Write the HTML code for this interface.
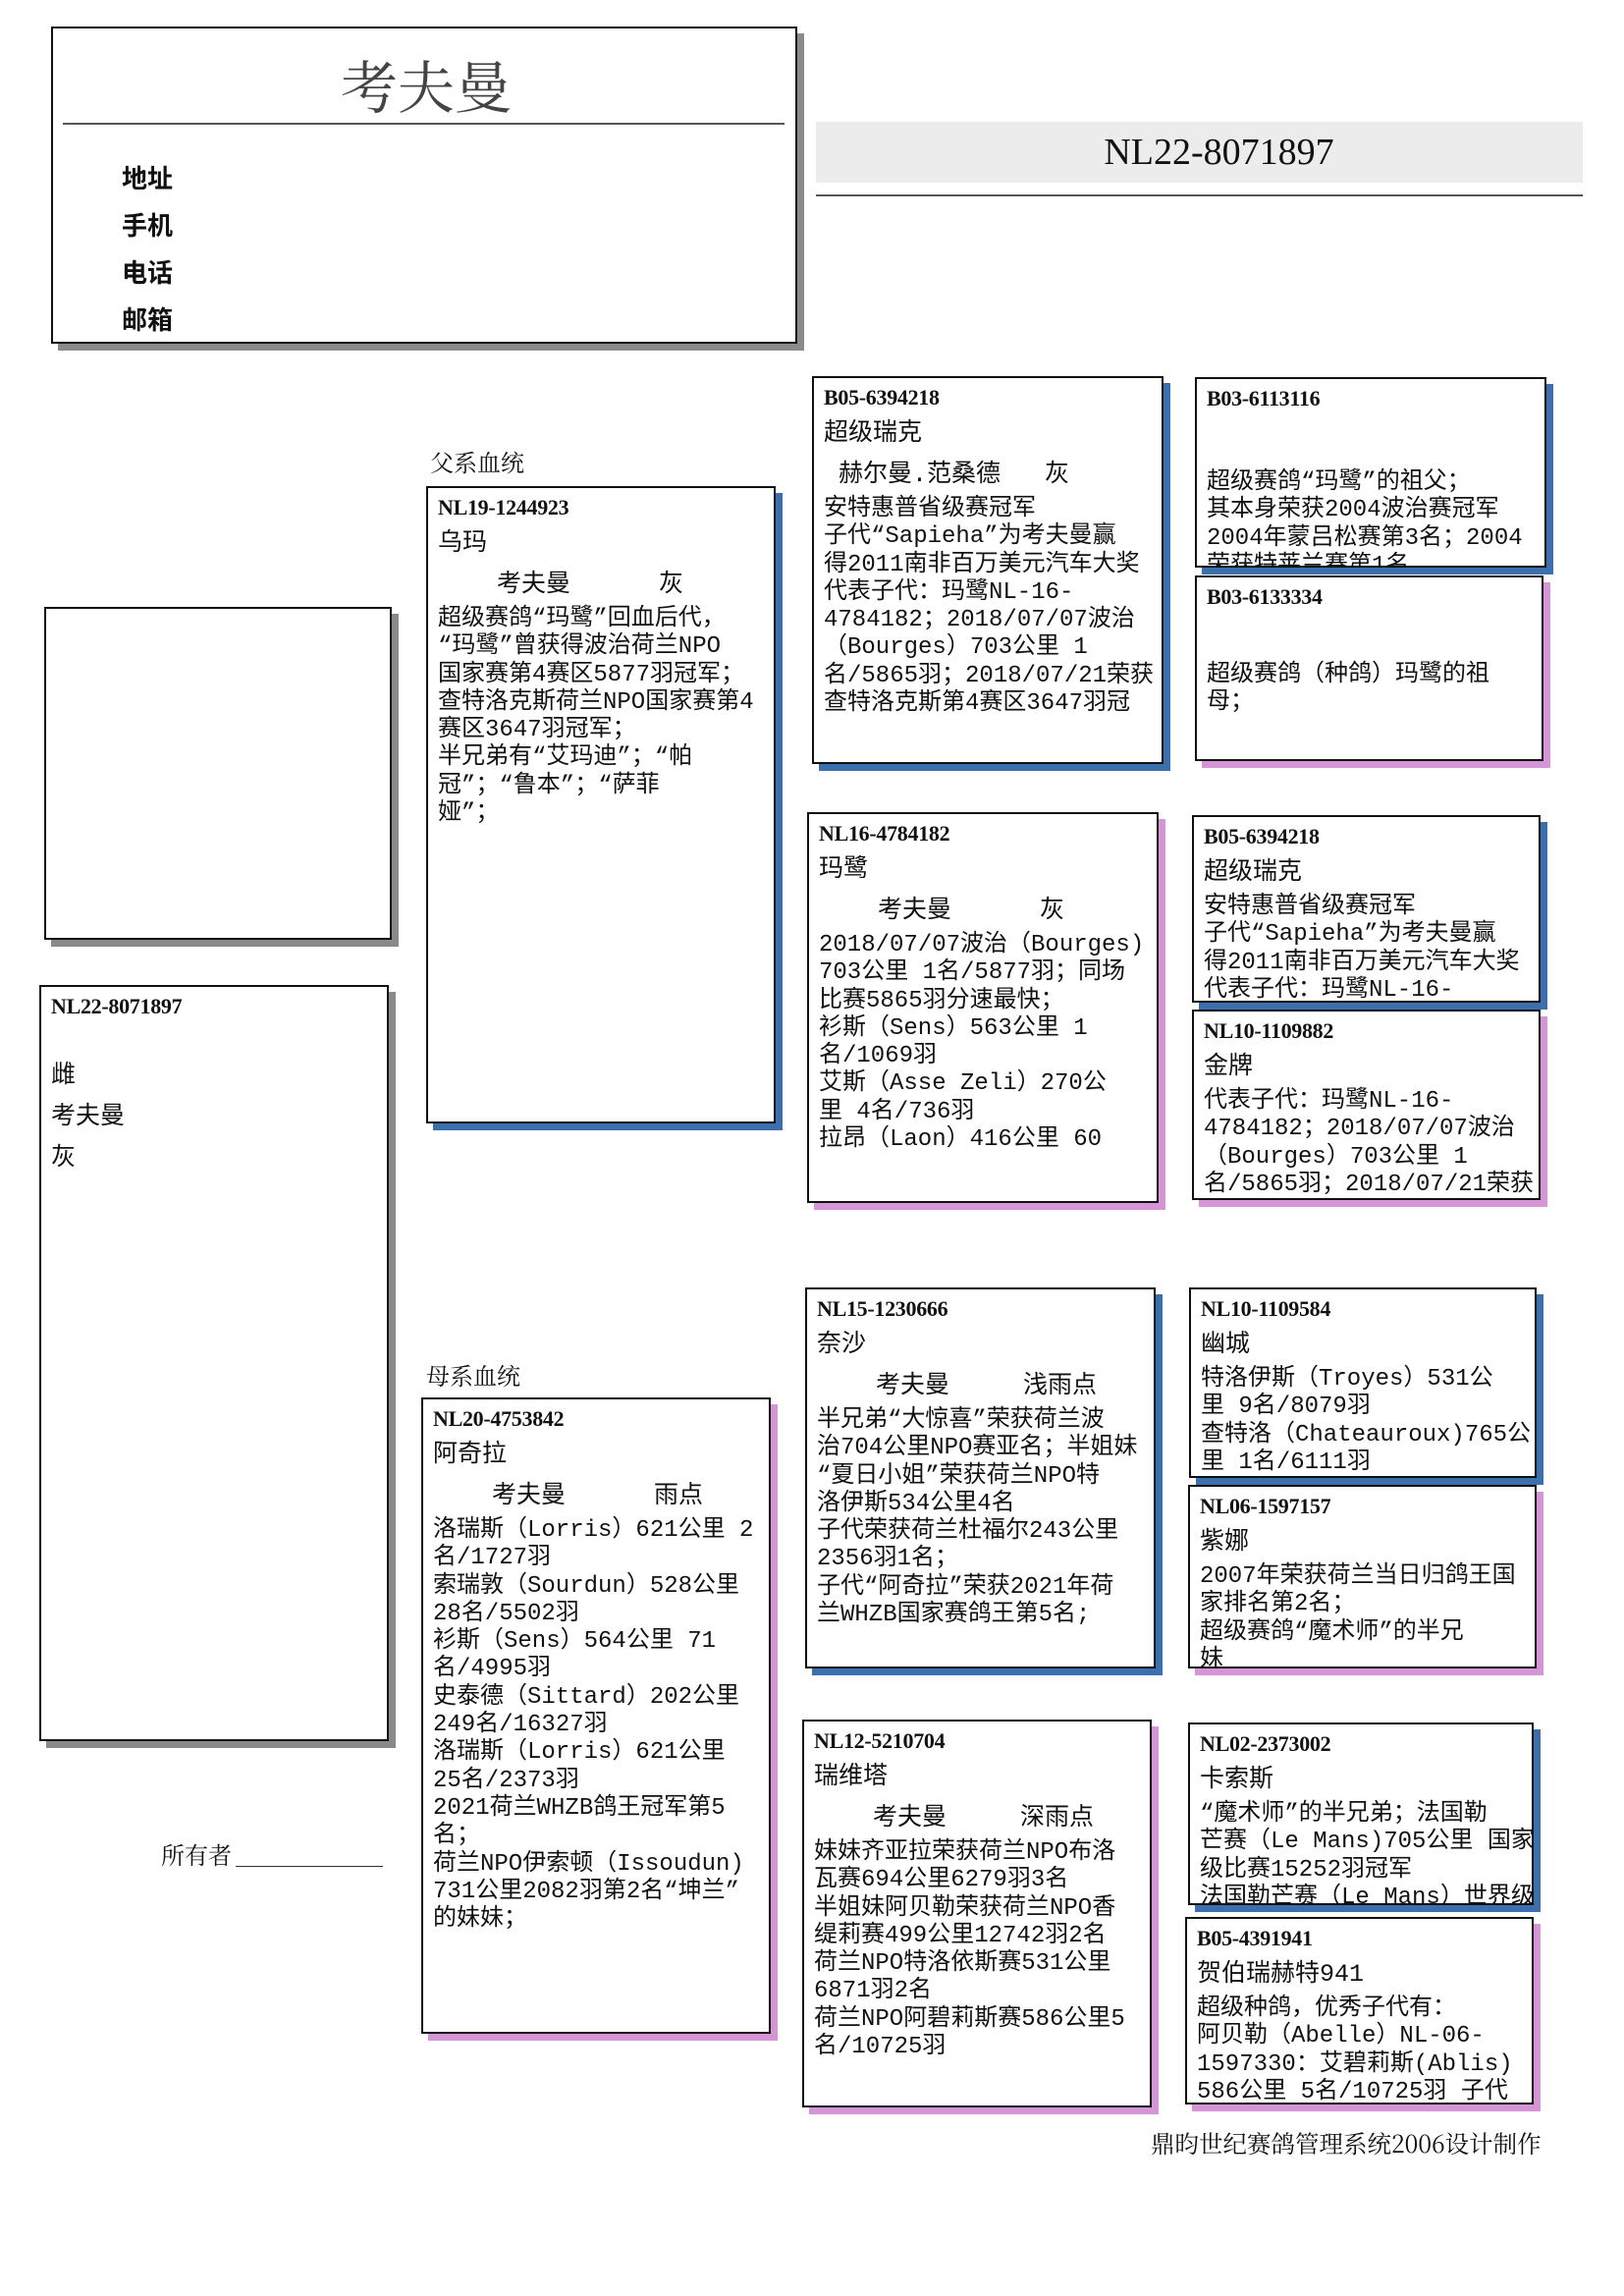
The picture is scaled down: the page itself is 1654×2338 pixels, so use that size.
<!DOCTYPE html>
<html><head><meta charset="utf-8">
<style>
html,body{margin:0;padding:0;background:#fff;}
body{width:1654px;height:2338px;position:relative;overflow:hidden;font-family:"Liberation Mono","Noto Sans CJK SC",monospace;color:#111;}
.a{position:absolute;}
.bx{position:absolute;border:2px solid #111;background:#fff;overflow:hidden;box-sizing:border-box;padding:4px 0 0 10px;}
.blue{box-shadow:7px 7px 0 #3b6fae;}
.pink{box-shadow:7px 7px 0 #d595d6;}
.gray{box-shadow:7px 7px 0 #8a8a8a;}
.id{font-family:"Liberation Serif","Noto Serif CJK SC",serif;font-weight:bold;font-size:22px;height:32px;line-height:32px;letter-spacing:-0.3px;}
.nm{font-size:25px;height:42px;line-height:42px;}
.ow{font-size:25px;height:42px;line-height:42px;white-space:pre;}
.bd{font-size:24px;line-height:28.3px;white-space:nowrap;}
</style></head><body>

<!-- header -->
<div class="bx gray" style="left:52px;top:27px;width:760px;height:323px;padding:0;">
  <div class="a" style="left:20px;width:720px;top:14px;text-align:center;font-family:'Noto Serif CJK SC',serif;font-size:58px;color:#444;">考夫曼</div>
  <div class="a" style="left:10px;top:96px;width:735px;height:2px;background:#555;"></div>
  <div class="a" style="left:70px;top:128px;font-size:26px;font-weight:bold;line-height:48px;font-family:'Noto Sans CJK SC',sans-serif;">地址<br>手机<br>电话<br>邮箱</div>
</div>
<div class="a" style="left:831px;top:124px;width:781px;height:62px;background:#ececec;"></div>
<div class="a" style="left:831px;top:124px;width:781px;height:62px;line-height:62px;text-align:center;font-family:'Liberation Serif',serif;font-size:38px;padding-left:40px;box-sizing:border-box;">NL22-8071897</div>
<div class="a" style="left:831px;top:198px;width:781px;height:2px;background:#555;"></div>

<!-- left -->
<div class="bx gray" style="left:45px;top:618px;width:354px;height:339px;"></div>
<div class="bx gray" style="left:40px;top:1003px;width:356px;height:770px;">
  <div class="id">NL22-8071897</div>
  <div style="height:34px"></div>
  <div class="bd" style="font-size:25px;line-height:42px;">雌<br>考夫曼<br>灰</div>
</div>
<div class="a" style="left:164px;top:1870px;font-family:'Noto Serif CJK SC',serif;font-size:24px;">所有者</div>
<div class="a" style="left:240px;top:1900px;width:150px;height:1px;background:#333;"></div>

<!-- parents -->
<div class="a" style="left:438px;top:452px;font-family:'Noto Serif CJK SC',serif;font-size:24px;">父系血统</div>
<div class="bx blue" style="left:434px;top:495px;width:356px;height:649px;">
  <div class="id">NL19-1244923</div>
  <div class="nm">乌玛</div>
  <div class="ow">    考夫曼      灰</div>
  <div class="bd">超级赛鸽“玛鹭”回血后代，<br>“玛鹭”曾获得波治荷兰NPO<br>国家赛第4赛区5877羽冠军；<br>查特洛克斯荷兰NPO国家赛第4<br>赛区3647羽冠军；<br>半兄弟有“艾玛迪”；“帕<br>冠”；“鲁本”；“萨菲<br>娅”；</div>
</div>
<div class="a" style="left:434px;top:1382px;font-family:'Noto Serif CJK SC',serif;font-size:24px;">母系血统</div>
<div class="bx pink" style="left:429px;top:1423px;width:356px;height:648px;">
  <div class="id">NL20-4753842</div>
  <div class="nm">阿奇拉</div>
  <div class="ow">    考夫曼      雨点</div>
  <div class="bd">洛瑞斯（Lorris）621公里  2<br>名/1727羽<br>索瑞敦（Sourdun）528公里<br>28名/5502羽<br>衫斯（Sens）564公里  71<br>名/4995羽<br>史泰德（Sittard）202公里<br>249名/16327羽<br>洛瑞斯（Lorris）621公里<br>25名/2373羽<br>2021荷兰WHZB鸽王冠军第5<br>名；<br>荷兰NPO伊索顿（Issoudun)<br>731公里2082羽第2名“坤兰”<br>的妹妹；</div>
</div>

<!-- grandparents -->
<div class="bx blue" style="left:827px;top:383px;width:358px;height:395px;">
  <div class="id">B05-6394218</div>
  <div class="nm">超级瑞克</div>
  <div class="ow"> 赫尔曼.范桑德   灰</div>
  <div class="bd">安特惠普省级赛冠军<br>子代“Sapieha”为考夫曼赢<br>得2011南非百万美元汽车大奖<br>代表子代：玛鹭NL-16-<br>4784182；2018/07/07波治<br>（Bourges）703公里   1<br>名/5865羽；2018/07/21荣获<br>查特洛克斯第4赛区3647羽冠</div>
</div>
<div class="bx pink" style="left:822px;top:827px;width:358px;height:398px;">
  <div class="id">NL16-4784182</div>
  <div class="nm">玛鹭</div>
  <div class="ow">    考夫曼      灰</div>
  <div class="bd">2018/07/07波治（Bourges)<br>703公里   1名/5877羽；同场<br>比赛5865羽分速最快；<br>衫斯（Sens）563公里    1<br>名/1069羽<br>艾斯（Asse Zeli）270公<br>里   4名/736羽<br>拉昂（Laon）416公里   60</div>
</div>
<div class="bx blue" style="left:820px;top:1311px;width:357px;height:388px;">
  <div class="id">NL15-1230666</div>
  <div class="nm">奈沙</div>
  <div class="ow">    考夫曼     浅雨点</div>
  <div class="bd">半兄弟“大惊喜”荣获荷兰波<br>治704公里NPO赛亚名；半姐妹<br>“夏日小姐”荣获荷兰NPO特<br>洛伊斯534公里4名<br>子代荣获荷兰杜福尔243公里<br>2356羽1名；<br>子代“阿奇拉”荣获2021年荷<br>兰WHZB国家赛鸽王第5名;</div>
</div>
<div class="bx pink" style="left:817px;top:1751px;width:356px;height:395px;">
  <div class="id">NL12-5210704</div>
  <div class="nm">瑞维塔</div>
  <div class="ow">    考夫曼     深雨点</div>
  <div class="bd">妹妹齐亚拉荣获荷兰NPO布洛<br>瓦赛694公里6279羽3名<br>半姐妹阿贝勒荣获荷兰NPO香<br>缇莉赛499公里12742羽2名<br>荷兰NPO特洛依斯赛531公里<br>6871羽2名<br>荷兰NPO阿碧莉斯赛586公里5<br>名/10725羽</div>
</div>

<!-- great-grandparents -->
<div class="bx blue" style="left:1217px;top:384px;width:358px;height:194px;">
  <div class="id">B03-6113116</div>
  <div class="nm"></div>
  <div class="bd" style="margin-top:14px">超级赛鸽“玛鹭”的祖父；<br>其本身荣获2004波治赛冠军<br>2004年蒙吕松赛第3名；2004<br>荣获特莱兰赛第1名</div>
</div>
<div class="bx pink" style="left:1217px;top:586px;width:355px;height:189px;">
  <div class="id">B03-6133334</div>
  <div class="nm"></div>
  <div class="bd" style="margin-top:8px">超级赛鸽（种鸽）玛鹭的祖<br>母；</div>
</div>
<div class="bx blue" style="left:1214px;top:830px;width:355px;height:191px;">
  <div class="id">B05-6394218</div>
  <div class="nm">超级瑞克</div>
  <div class="bd">安特惠普省级赛冠军<br>子代“Sapieha”为考夫曼赢<br>得2011南非百万美元汽车大奖<br>代表子代：玛鹭NL-16-</div>
</div>
<div class="bx pink" style="left:1214px;top:1028px;width:355px;height:194px;">
  <div class="id">NL10-1109882</div>
  <div class="nm">金牌</div>
  <div class="bd">代表子代：玛鹭NL-16-<br>4784182；2018/07/07波治<br>（Bourges）703公里   1<br>名/5865羽；2018/07/21荣获</div>
</div>
<div class="bx blue" style="left:1211px;top:1311px;width:354px;height:194px;">
  <div class="id">NL10-1109584</div>
  <div class="nm">幽城</div>
  <div class="bd">特洛伊斯（Troyes）531公<br>里   9名/8079羽<br>查特洛（Chateauroux)765公<br>里   1名/6111羽</div>
</div>
<div class="bx pink" style="left:1210px;top:1512px;width:355px;height:187px;">
  <div class="id">NL06-1597157</div>
  <div class="nm">紫娜</div>
  <div class="bd">2007年荣获荷兰当日归鸽王国<br>家排名第2名；<br>超级赛鸽“魔术师”的半兄<br>妹</div>
</div>
<div class="bx blue" style="left:1210px;top:1754px;width:352px;height:186px;">
  <div class="id">NL02-2373002</div>
  <div class="nm">卡索斯</div>
  <div class="bd"> “魔术师”的半兄弟；法国勒<br>芒赛（Le Mans)705公里 国家<br>级比赛15252羽冠军<br>法国勒芒赛（Le Mans）世界级</div>
</div>
<div class="bx pink" style="left:1207px;top:1952px;width:355px;height:191px;">
  <div class="id">B05-4391941</div>
  <div class="nm">贺伯瑞赫特941</div>
  <div class="bd">超级种鸽，优秀子代有：<br>阿贝勒（Abelle）NL-06-<br>1597330：艾碧莉斯(Ablis)<br>586公里 5名/10725羽 子代</div>
</div>

<div class="a" style="left:1172px;top:2165px;font-family:'Noto Serif CJK SC',serif;font-size:24.5px;">鼎昀世纪赛鸽管理系统2006设计制作</div>
</body></html>
